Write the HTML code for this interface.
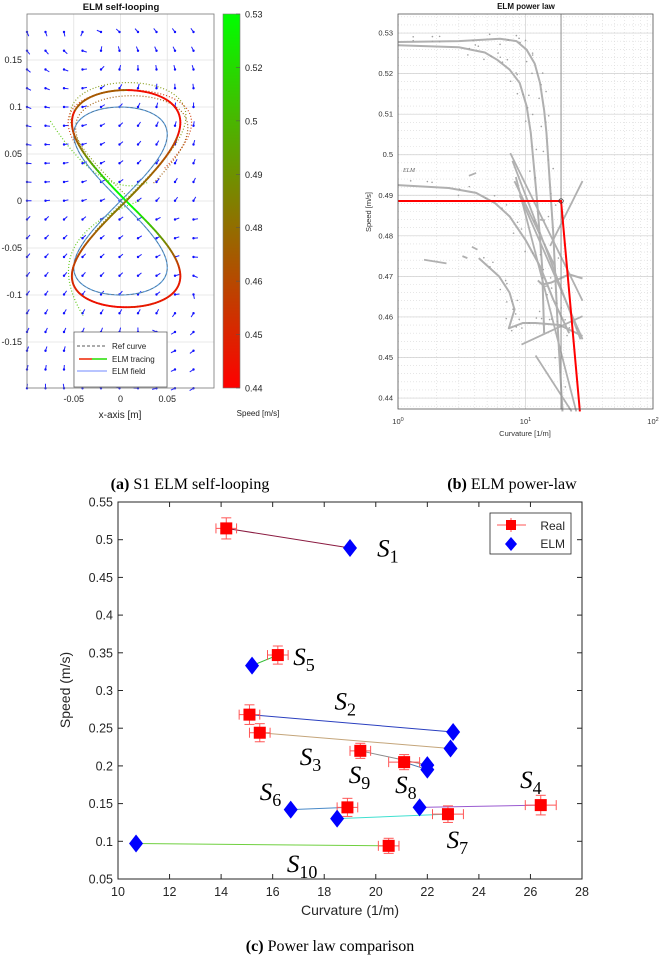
<!DOCTYPE html>
<html><head><meta charset="utf-8"><title>ELM figure</title>
<style>
html,body{margin:0;padding:0;background:#fff;}
svg{display:block;font-family:"Liberation Sans",sans-serif;}
.serif{font-family:"Liberation Serif",serif;}
</style></head>
<body>
<svg id="fig" width="660" height="959" viewBox="0 0 660 959" xmlns="http://www.w3.org/2000/svg">
<g id="pa"></g>
<g id="pb"></g>
<g id="pc"></g>
<text x="190" y="489" text-anchor="middle" class="serif" font-size="16"><tspan font-weight="bold">(a)</tspan> S1 ELM self-looping</text>
<text x="512" y="489" text-anchor="middle" class="serif" font-size="16"><tspan font-weight="bold">(b)</tspan> ELM power-law</text>
<text x="330" y="951" text-anchor="middle" class="serif" font-size="16"><tspan font-weight="bold">(c)</tspan> Power law comparison</text>
</svg>
<script>
// ===== Panel C data =====
const seqNames = ["1","5","2","3","9","8","6","7","4","10"];
const realCurv = [14.2,16.2,15.1,15.5,19.4,21.1,18.9,22.8,26.4,20.5];
const realSpeed = [0.515,0.347,0.268,0.244,0.220,0.205,0.145,0.136,0.148,0.094];
const elmCurv = [19.0,15.2,23.0,22.9,22.0,22.0,16.7,18.5,21.7,10.7];
const elmSpeed = [0.489,0.333,0.245,0.223,0.201,0.195,0.142,0.130,0.145,0.097];
const curvErr = [0.4,0.4,0.4,0.4,0.4,0.6,0.4,0.6,0.6,0.4];
const speedErr = [0.014,0.012,0.013,0.012,0.010,0.010,0.012,0.011,0.013,0.010];
const labelCurv = [20.05,16.8,18.4,17.05,18.95,20.75,15.5,22.75,25.6,16.55];
const labelSpeed = [0.478,0.334,0.275,0.201,0.177,0.164,0.155,0.091,0.171,0.059];
const linkColors = ["#8a1a40","#33bb33","#2a3fbf","#c4a57a","#8a8a8a","#4a7ab0","#4a8ac8","#40e0d0","#9a5ad0","#70d040"];
const xTicksC = [10,12,14,16,18,20,22,24,26,28];
const yTicksC = [0.05,0.1,0.15,0.2,0.25,0.3,0.35,0.4,0.45,0.5,0.55];

// ===== Panel B data (curvature [1/m], speed [m/s]) =====
const curveA = [[1,0.5278],[3,0.528],[6.3,0.5286],[8.5,0.5280],[10.2,0.5259],[11.8,0.5225],[13,0.5177],[14,0.5110],[14.6,0.5054],[15.6,0.492],[16.5,0.4807],[18,0.456],[19.5,0.4367]];
const curveB = [[1,0.527],[3,0.5265],[4.8,0.5252],[6,0.5234],[7.5,0.5210],[9,0.5177],[10.2,0.5120],[11,0.5054],[12.3,0.489],[13.5,0.4725],[14,0.456]];
const curveC = [[1,0.4925],[2.5,0.4918],[4.1,0.4906],[5.8,0.4880],[7.5,0.4848],[10,0.479],[13,0.4725],[16.5,0.4643],[22,0.456]];
const curveD = [[4.3,0.4745],[6.2,0.470],[7.5,0.466],[8.2,0.4618],[7.4,0.4572],[9.5,0.4585],[12,0.4585],[18.5,0.458],[28,0.4553]];
const curveE = [[12.5,0.469],[13.5,0.468],[16,0.4685],[22,0.4705],[28,0.4695]];
const diagLines = [
 [[7.6,0.5004],[28,0.4640]],
 [[7.9,0.4985],[27,0.4545]],
 [[8.4,0.4945],[25,0.4367]],
 [[8.2,0.4935],[17,0.4725]],
 [[9.0,0.4900],[28,0.4545]],
 [[9.3,0.4532],[28,0.4602]],
 [[15.6,0.4775],[28,0.4935]],
 [[12,0.4505],[23,0.4367]]
];
const shortDashes = [[[1.6,0.4741],[2.4,0.4732]],[[3.2,0.4750],[3.5,0.4745]],[[3.8,0.4773],[4.2,0.4766]],[[3.6,0.4948],[4.1,0.4955]],[[13,0.4840],[14.2,0.4838]]];
const elmCurvPoint = [19.0];
const elmSpeedPoint = [0.4886];
const redLine = [[1,0.4886],[19.0,0.4886],[26.7,0.4367]];
const yTicksB = [0.44,0.45,0.46,0.47,0.48,0.49,0.5,0.51,0.52,0.53];

// ===== Panel A data =====
const cbTicks = ["0.53","0.52","0.5","0.49","0.48","0.46","0.45","0.44"];
const yTicksA = [0.15,0.1,0.05,0,-0.05,-0.1,-0.15];
const xTicksA = [-0.05,0,0.05];

const NS="http://www.w3.org/2000/svg";
function mk(parent,tag,attrs,txt){const e=document.createElementNS(NS,tag);for(const k in attrs)e.setAttribute(k,attrs[k]);if(txt!==undefined)e.textContent=txt;parent.appendChild(e);return e;}

// ================= PANEL C =================
(function(){
const g=document.getElementById('pc');
const L=118,R=582,T=502,B=879;
const X=v=>L+(v-10)/18*(R-L);
const Y=v=>B-(v-0.05)/0.5*(B-T);
const frame=mk(g,'rect',{x:L,y:T,width:R-L,height:B-T,fill:'#fff',stroke:'#262626','stroke-width':1});


xTicksC.forEach(t=>{
 const x=X(t);
 mk(g,'line',{x1:x,y1:B,x2:x,y2:B-5,stroke:'#262626'});
 mk(g,'line',{x1:x,y1:T,x2:x,y2:T+5,stroke:'#262626'});
 const tx=mk(g,'text',{x:x,y:896,'text-anchor':'middle','font-size':12.5,fill:'#262626'},String(t));
 
 
});
yTicksC.forEach(t=>{
 const y=Y(t);
 mk(g,'line',{x1:L,y1:y,x2:L+5,y2:y,stroke:'#262626'});
 mk(g,'line',{x1:R,y1:y,x2:R-5,y2:y,stroke:'#262626'});
 const tx=mk(g,'text',{x:113,y:y+4.5,'text-anchor':'end','font-size':12.5,fill:'#262626'},String(t));
 
 
});
const xl=mk(g,'text',{x:350,y:915,'text-anchor':'middle','font-size':14,fill:'#262626'},'Curvature (1/m)');


const yl=mk(g,'text',{x:0,y:0,'text-anchor':'middle','font-size':14,fill:'#262626',transform:'translate(70,690) rotate(-90)'},'Speed (m/s)');


for(let i=0;i<realCurv.length;i++){
 const ln=mk(g,'line',{x1:X(realCurv[i]),y1:Y(realSpeed[i]),x2:X(elmCurv[i]),y2:Y(elmSpeed[i]),stroke:linkColors[i],'stroke-width':1});
 
 
}
for(let i=0;i<realCurv.length;i++){
 const cx=X(realCurv[i]),cy=Y(realSpeed[i]);
 const x1=X(realCurv[i]-curvErr[i]),x2=X(realCurv[i]+curvErr[i]);
 const y1=Y(realSpeed[i]-speedErr[i]),y2=Y(realSpeed[i]+speedErr[i]);
 const eg=mk(g,'g',{stroke:'#ff5555','stroke-width':1});
 
 
 mk(eg,'line',{x1:x1,y1:cy,x2:x2,y2:cy});
 mk(eg,'line',{x1:x1,y1:cy-5,x2:x1,y2:cy+5});
 mk(eg,'line',{x1:x2,y1:cy-5,x2:x2,y2:cy+5});
 mk(eg,'line',{x1:cx,y1:y1,x2:cx,y2:y2});
 mk(eg,'line',{x1:cx-5,y1:y1,x2:cx+5,y2:y1});
 mk(eg,'line',{x1:cx-5,y1:y2,x2:cx+5,y2:y2});
 const sq=mk(g,'rect',{x:cx-6,y:cy-6,width:12,height:12,fill:'#ff0000'});
 
 
}
for(let i=0;i<elmCurv.length;i++){
 const cx=X(elmCurv[i]),cy=Y(elmSpeed[i]);
 const d=mk(g,'polygon',{points:`${cx},${cy-9} ${cx+7},${cy} ${cx},${cy+9} ${cx-7},${cy}`,fill:'#0000ff'});
 
 
}
for(let i=0;i<labelCurv.length;i++){
 const t=mk(g,'text',{x:X(labelCurv[i]),y:Y(labelSpeed[i]),'font-size':25,'font-style':'italic',class:'serif',fill:'#000'});
 
 
 mk(t,'tspan',{},'S');
 mk(t,'tspan',{'font-size':18,'font-style':'normal',dy:6},seqNames[i]);
}
const lg=mk(g,'g',{});


mk(lg,'rect',{x:490,y:513,width:81,height:41,fill:'#fff',stroke:'#262626','stroke-width':0.8});
const le1=mk(lg,'g',{});


mk(le1,'line',{x1:497,y1:525,x2:526,y2:525,stroke:'#ff5555'});
mk(le1,'line',{x1:511,y1:518,x2:511,y2:532,stroke:'#ff5555'});
mk(le1,'rect',{x:506,y:520,width:10,height:10,fill:'#ff0000'});
mk(le1,'text',{x:565,y:530,'text-anchor':'end','font-size':12,fill:'#262626'},'Real');
const le2=mk(lg,'g',{});


mk(le2,'polygon',{points:'511,537 517,544 511,551 505,544',fill:'#0000ff'});
mk(le2,'text',{x:565,y:548,'text-anchor':'end','font-size':12,fill:'#262626'},'ELM');
})();

// ================= PANEL B =================
(function(){
const g=document.getElementById('pb');
const L=398,R=653,T=14,B=409;
const sMin=0.4373,sMax=0.5347;
const X=c=>L+Math.log10(c)/2*(R-L);
const Y=s=>B-(s-sMin)/(sMax-sMin)*(B-T);
mk(g,'rect',{x:L,y:T,width:R-L,height:B-T,fill:'#fff'});
for(let d=0;d<2;d++)for(let m=2;m<=9;m++){const x=X(m*Math.pow(10,d));mk(g,'line',{x1:x,y1:T,x2:x,y2:B,stroke:'#d8d8d8','stroke-width':0.6,'stroke-dasharray':'1 2'});}
for(let k=0;k<50;k++){const s=0.438+k*0.002;if(s>sMax)break;mk(g,'line',{x1:L,y1:Y(s),x2:R,y2:Y(s),stroke:'#d8d8d8','stroke-width':0.6,'stroke-dasharray':'1 2'});}
[1,10,100].forEach(c=>mk(g,'line',{x1:X(c),y1:T,x2:X(c),y2:B,stroke:'#cfcfcf','stroke-width':0.7}));
yTicksB.forEach(s=>mk(g,'line',{x1:L,y1:Y(s),x2:R,y2:Y(s),stroke:'#cfcfcf','stroke-width':0.7}));
const poly=(pts,name,w)=>{const p=mk(g,'polyline',{points:pts.map(q=>X(q[0])+','+Y(q[1])).join(' '),fill:'none',stroke:'#b0b0b0','stroke-width':w||2,'stroke-linejoin':'round'});return p;};
poly(curveA,'gray-curve-a');poly(curveB,'gray-curve-b');poly(curveC,'gray-curve-c');poly(curveD,'gray-curve-d');poly(curveE,'gray-curve-e');
diagLines.forEach((l,i)=>poly(l,'gray-diagonal-'+i,1.8));
shortDashes.forEach((l,i)=>poly(l,'gray-dash-'+i,1.8));
[curveA,curveB,curveC,curveD].forEach(c=>{for(let i=0;i<c.length-1;i++){for(let k=1;k<4;k++){const f=k/4;const cc=Math.pow(10,Math.log10(c[i][0])*(1-f)+Math.log10(c[i+1][0])*f);const ss=c[i][1]*(1-f)+c[i+1][1]*f;mk(g,'circle',{cx:X(cc)+((i+k)%3-1)*4,cy:Y(ss)+((i*k)%3-1)*5,r:0.8,fill:'#a0a0a0'});}}});
const vl=mk(g,'line',{x1:X(elmCurvPoint[0]),y1:T,x2:X(elmCurvPoint[0]),y2:B,stroke:'#909090','stroke-width':1});


const rl=mk(g,'polyline',{points:redLine.map(q=>X(q[0])+','+Y(q[1])).join(' '),fill:'none',stroke:'#ff0000','stroke-width':2});


const pt=mk(g,'circle',{cx:X(elmCurvPoint[0]),cy:Y(elmSpeedPoint[0]),r:2.2,fill:'none',stroke:'#333','stroke-width':0.8});


mk(g,'text',{x:403,y:172,'font-size':6,'font-style':'italic',class:'serif',fill:'#666'},'ELM');
mk(g,'rect',{x:L,y:T,width:R-L,height:B-T,fill:'none',stroke:'#555','stroke-width':0.8});
yTicksB.forEach(s=>{const t=mk(g,'text',{x:393,y:Y(s)+2.5,'text-anchor':'end','font-size':7.5,fill:'#333'},String(s));});
[[1,'0'],[10,'1'],[100,'2']].forEach(([c,e])=>{const t=mk(g,'text',{x:X(c),y:424,'text-anchor':'middle','font-size':7.5,fill:'#333'});mk(t,'tspan',{},'10');mk(t,'tspan',{dy:-3,'font-size':5.5},e);});
const xl=mk(g,'text',{x:525,y:436,'text-anchor':'middle','font-size':7.5,fill:'#333'},'Curvature [1/m]');

const yl=mk(g,'text',{x:0,y:0,'text-anchor':'middle','font-size':7.5,fill:'#333',transform:'translate(371,212) rotate(-90)'},'Speed [m/s]');

const ti=mk(g,'text',{x:526,y:9,'text-anchor':'middle','font-size':8,'font-weight':'bold',fill:'#111'},'ELM power law');

})();

// ================= PANEL A =================
(function(){
const g=document.getElementById('pa');
const L=27,R=214,T=14,B=388;
const X=v=>120.5+v*935;
const Y=v=>201-v*940;
mk(g,'rect',{x:L,y:T,width:R-L,height:B-T,fill:'#fff'});
xTicksA.forEach(t=>mk(g,'line',{x1:X(t),y1:T,x2:X(t),y2:B,stroke:'#e2e2e2','stroke-width':0.8}));
yTicksA.forEach(t=>mk(g,'line',{x1:L,y1:Y(t),x2:R,y2:Y(t),stroke:'#e2e2e2','stroke-width':0.8}));
const qf=mk(g,'g',{stroke:'#2020ff','stroke-width':1});


for(let i=0;i<10;i++)for(let j=0;j<20;j++){
 const px=27+i*18.5,py=32+j*18.75;
 const x=(px-120.5)/935,y=(201-py)/940;
 const cy=y>=0?0.07:-0.07;const s=y>=0?1:-1;
 let u=-(y-cy)*s*0.5, v=x*s*0.5;
 u+= 0.04 - x*0.3; v+= 0.05 - Math.abs(y)*0.2;
 const n=Math.hypot(u,v)||1;const len=4.5;
 const ex=px+u/n*len,ey=py-v/n*len;
 mk(qf,'line',{x1:px,y1:py,x2:ex,y2:ey});
 mk(qf,'circle',{cx:px,cy:py,r:1.2,fill:'#1010ff',stroke:'none'});
}
const dotted=(a,b,c,off,col,t0,t1,name)=>{let pts=[];for(let k=0;k<=120;k++){const t=t0+(t1-t0)*k/120;pts.push(X(a*Math.sin(2*t)+off)+','+Y(c*Math.sin(t)+b));}const p=mk(g,'polyline',{points:pts.join(' '),fill:'none',stroke:col,'stroke-width':1.2,'stroke-dasharray':'1 2'});};
dotted(0.062,0.004,0.122,0.008,'#8aa020',-0.3,Math.PI,'dotted-trajectory-1');
dotted(0.066,0.0,0.118,0.01,'#d04010',0.3,2.6,'dotted-trajectory-2');
dotted(0.06,-0.004,0.116,0.012,'#a06010',0.2,2.9,'dotted-trajectory-3');
const arc=mk(g,'path',{d:`M${X(-0.075)},${Y(0.085)} Q${X(-0.02)},${Y(0.0)} ${X(0.03)},${Y(0.02)}`,fill:'none',stroke:'#66cc22','stroke-width':1.2,'stroke-dasharray':'1 2'});

const arc2=mk(g,'path',{d:`M${X(0.02)},${Y(0.0)} Q${X(-0.09)},${Y(-0.04)} ${X(-0.04)},${Y(-0.122)}`,fill:'none',stroke:'#66cc22','stroke-width':1.2,'stroke-dasharray':'1 2'});

let ref=[];for(let k=0;k<=200;k++){const t=2*Math.PI*k/200;ref.push(X(0.05*Math.sin(2*t))+','+Y(0.1*Math.sin(t)));}
const fl=mk(g,'polyline',{points:ref.join(' '),fill:'none',stroke:'#5aa0e0','stroke-width':1.2});

const rc=mk(g,'polyline',{points:ref.join(' '),fill:'none',stroke:'#555','stroke-width':0.5,'stroke-dasharray':'3 2'});

const tr=mk(g,'g',{'stroke-width':1.9,'stroke-linecap':'round'});

const col=f=>{const r=Math.round(255*(1-f)),gg=Math.round(255*f);return `rgb(${r},${gg},0)`;};
let prev=null;
for(let k=0;k<=240;k++){const t=2*Math.PI*k/240;const x=0.058*Math.sin(2*t)+0.006,y=(Math.sin(t)>0?0.118:0.113)*Math.sin(t);
 const p=[X(x),Y(y)];
 if(prev){let f;const st=Math.sin(t),ct=Math.cos(t);
  if(ct<0) f=Math.max(0,1-Math.abs(st)*1.4)+0.1; else f=0.45*(1-Math.abs(st))+0.05;
  if(st>0.8&&ct<0) f=0.35; if(st>0&&ct>0&&st>0.6) f=0.05;
  f=Math.min(1,Math.max(0,f));
  mk(tr,'line',{x1:prev[0],y1:prev[1],x2:p[0],y2:p[1],stroke:col(f)});}
 prev=p;}
mk(g,'rect',{x:L,y:T,width:R-L,height:B-T,fill:'none',stroke:'#777','stroke-width':0.8});
yTicksA.forEach(t=>{const tx=mk(g,'text',{x:22,y:Y(t)+3,'text-anchor':'end','font-size':9,fill:'#222'},String(t));});
xTicksA.forEach(t=>{const tx=mk(g,'text',{x:X(t),y:402,'text-anchor':'middle','font-size':9,fill:'#222'},String(t));});
const xl=mk(g,'text',{x:120,y:418,'text-anchor':'middle','font-size':10,fill:'#222'},'x-axis [m]');

const ti=mk(g,'text',{x:121,y:10,'text-anchor':'middle','font-size':9.5,'font-weight':'bold',fill:'#111'},'ELM self-looping');

const lg=mk(g,'g',{});

mk(lg,'rect',{x:74,y:332,width:93,height:55,fill:'#fff',stroke:'#555','stroke-width':0.7});
mk(lg,'line',{x1:77,y1:346,x2:107,y2:346,stroke:'#222','stroke-dasharray':'3 2','stroke-width':0.8});
mk(lg,'text',{x:112,y:349,'font-size':8,fill:'#222'},'Ref curve');
mk(lg,'line',{x1:79,y1:359,x2:92,y2:359,stroke:'#ee2200','stroke-width':1.5});
mk(lg,'line',{x1:92,y1:359,x2:107,y2:359,stroke:'#22dd00','stroke-width':1.5});
mk(lg,'text',{x:112,y:362,'font-size':8,fill:'#222'},'ELM tracing');
mk(lg,'line',{x1:77,y1:371,x2:107,y2:371,stroke:'#4060ff','stroke-width':0.8});
mk(lg,'text',{x:112,y:374,'font-size':8,fill:'#222'},'ELM field');
const defs=mk(document.getElementById('fig'),'defs',{});
const lgd=mk(defs,'linearGradient',{id:'cbg',x1:0,y1:0,x2:0,y2:1});
mk(lgd,'stop',{offset:'0','stop-color':'#00ff00'});
mk(lgd,'stop',{offset:'0.5','stop-color':'#808000'});
mk(lgd,'stop',{offset:'1','stop-color':'#ff0000'});
const cb=mk(g,'rect',{x:223,y:14,width:17,height:374,fill:'url(#cbg)',stroke:'#777','stroke-width':0.6});

cbTicks.forEach((t,i)=>{const y=14+i*374/7;mk(g,'line',{x1:236,y1:y,x2:240,y2:y,stroke:'#555','stroke-width':0.6});const tx=mk(g,'text',{x:245,y:y+3.5,'font-size':9,fill:'#222'},t);});
const cl=mk(g,'text',{x:258,y:416,'text-anchor':'middle','font-size':8,fill:'#222'},'Speed [m/s]');

})();
</script>
</body></html>
